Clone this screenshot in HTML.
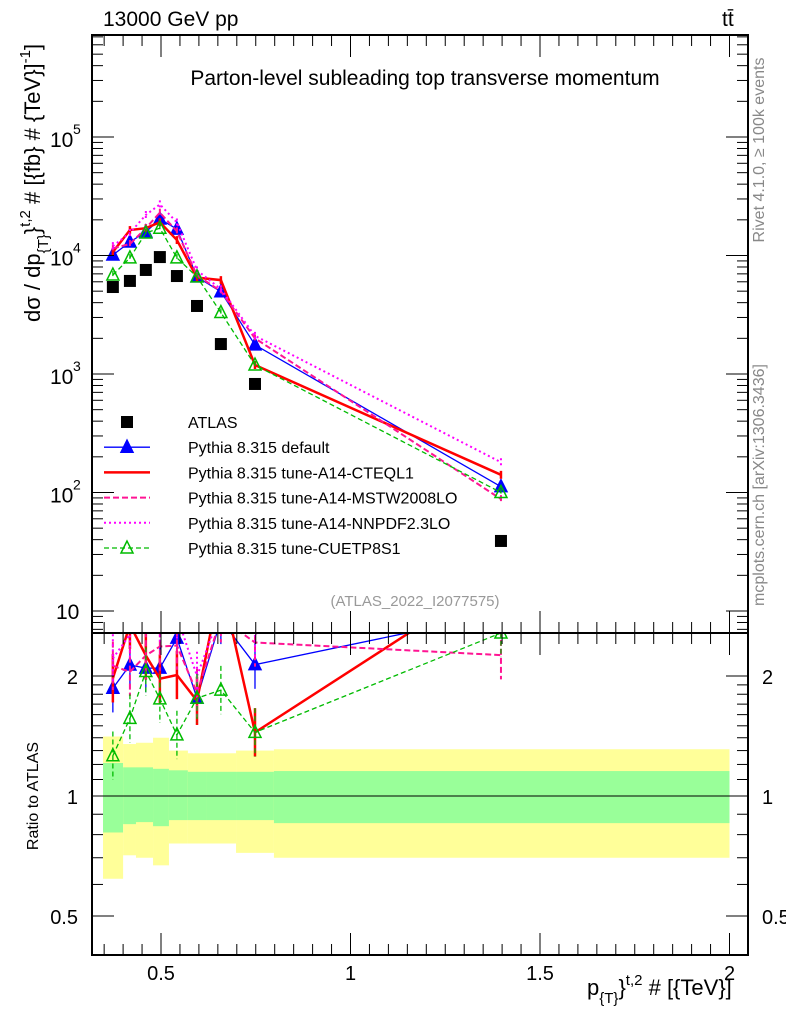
<!DOCTYPE html>
<html><head><meta charset="utf-8">
<style>
body{margin:0;background:#fff;font-family:"Liberation Sans",sans-serif;}
svg text{font-family:"Liberation Sans",sans-serif;}
</style></head>
<body>
<svg id="c" width="786" height="1024" xmlns="http://www.w3.org/2000/svg"></svg>
<script>
const xCenters=[0.373,0.418,0.46,0.497,0.542,0.595,0.658,0.748,1.397];
const binEdges=[0.347,0.40,0.434,0.479,0.521,0.571,0.62,0.698,0.798,2.0];
const atlas=[5420,6100,7550,9700,6710,3750,1790,824,39];
const pyDefault=[10100,13000,15800,20300,16700,6600,4950,1760,112];
const pyCTEQ=[10700,16400,17000,19100,13500,6500,6200,1190,141];
const pyMSTW=[11500,12500,17000,23000,16000,6800,5000,2000,88];
const pyNNPDF=[12000,15500,22000,27000,19000,7500,5200,2100,180];
const pyCUETP=[6840,9550,15500,17000,9550,6600,3300,1190,100];
const greenUp=[1.21,1.18,1.18,1.17,1.16,1.15,1.15,1.15,1.155];
const greenDn=[0.81,0.85,0.86,0.84,0.87,0.87,0.87,0.87,0.855];
const yellowUp=[1.41,1.35,1.36,1.40,1.30,1.28,1.28,1.30,1.31];
const yellowDn=[0.62,0.71,0.70,0.67,0.76,0.76,0.76,0.72,0.70];
const xTicks=[0.5,1,1.5,2];
const xTickLabels=["0.5","1","1.5","2"];

const S=document.getElementById('c');const NS='http://www.w3.org/2000/svg';
const L=92,R=748,T=35,MB=633,RB=955;
const X=v=>161+(v-0.5)*379;
const Y=v=>611-(Math.log10(v)-1)*118.5;
const YR=v=>796-Math.log2(v)*120;
function el(t,a,p){const e=document.createElementNS(NS,t);for(const k in a)e.setAttribute(k,a[k]);(p||S).appendChild(e);return e;}
function txt(s,x,y,a,p){const e=el('text',Object.assign({x:x,y:y,'font-size':20},a||{}),p);e.textContent=s;return e;}
function rich(parts,a){const e=el('text',a);parts.forEach(([s,dy,fs])=>{const t=el('tspan',{dy:dy,'font-size':fs},e);t.textContent=s;});return e;}

const defs=el('defs',{});
const c1=el('clipPath',{id:'cm'},defs);el('rect',{x:L,y:T,width:R-L,height:MB-T},c1);
const c2=el('clipPath',{id:'cr'},defs);el('rect',{x:L,y:MB,width:R-L,height:RB-MB},c2);
const gM=el('g',{'clip-path':'url(#cm)'});

const gR=el('g',{'clip-path':'url(#cr)'});


for(let i=0;i<xCenters.length;i++){
 const x0=X(binEdges[i]),x1=X(binEdges[i+1]);
 const y=el('rect',{x:x0,y:YR(yellowUp[i]),width:x1-x0,height:YR(yellowDn[i])-YR(yellowUp[i]),fill:'#ffff99'},gR);
 
 const g=el('rect',{x:x0,y:YR(greenUp[i]),width:x1-x0,height:YR(greenDn[i])-YR(greenUp[i]),fill:'#99ff99'},gR);
 
}
el('line',{x1:L,x2:R,y1:YR(1),y2:YR(1),stroke:'#000','stroke-width':1},gR);

const series=[
 {n:'pythia-default',d:pyDefault,c:'#0000ff',w:1.3,da:'',m:'tri'},
 {n:'pythia-a14-cteql1',d:pyCTEQ,c:'#ff0000',w:2.5,da:'',m:''},
 {n:'pythia-a14-mstw2008lo',d:pyMSTW,c:'#ff1493',w:2,da:'6,3',m:''},
 {n:'pythia-a14-nnpdf23lo',d:pyNNPDF,c:'#ff00ff',w:2,da:'2,3',m:''},
 {n:'pythia-cuetp8s1',d:pyCUETP,c:'#00bb00',w:1.3,da:'5,3',m:'otri'}];
function tri(g,x,y,c,open,name){const p=el('polygon',{points:`${x},${y-7} ${x-6},${y+5} ${x+6},${y+5}`,fill:open?'none':c,stroke:c,'stroke-width':1.5},g);}
series.forEach(s=>{
 const pm=xCenters.map((x,i)=>X(x)+','+Y(s.d[i])).join(' ');
 const l=el('polyline',{points:pm,fill:'none',stroke:s.c,'stroke-width':s.w,'stroke-dasharray':s.da},gM);
 
 const pr=xCenters.map((x,i)=>X(x)+','+YR(s.d[i]/atlas[i])).join(' ');
 const lr=el('polyline',{points:pr,fill:'none',stroke:s.c,'stroke-width':s.w,'stroke-dasharray':s.da},gR);
 
 xCenters.forEach((x,i)=>{
  const px=X(x),v=s.d[i],r=v/atlas[i];
  const e=el('line',{x1:px,x2:px,y1:Y(v*1.08),y2:Y(v/1.08),stroke:s.c,'stroke-width':s.w,'stroke-dasharray':s.da},gM);
  
  const er=el('line',{x1:px,x2:px,y1:YR(r*1.15),y2:YR(r/1.15),stroke:s.c,'stroke-width':s.w,'stroke-dasharray':s.da},gR);
  
  if(s.m){tri(gM,px,Y(v),s.c,s.m=='otri',s.n+'-point');tri(gR,px,YR(r),s.c,s.m=='otri',s.n+'-ratio-point');}
 });
});
xCenters.forEach((x,i)=>{
 const r=el('rect',{x:X(x)-6,y:Y(atlas[i])-6,width:12,height:12,fill:'#000'},gM);
 
});

el('rect',{x:L,y:T,width:R-L,height:MB-T,fill:'none',stroke:'#000','stroke-width':2});
el('rect',{x:L,y:MB,width:R-L,height:RB-MB,fill:'none',stroke:'#000','stroke-width':2});
for(let d=0;d<6;d++)for(let k=1;k<10;k++){const v=Math.pow(10,d)*k;const y=Y(v);if(y<T||y>MB)continue;const len=k==1?22:11;
 el('line',{x1:L,x2:L+len,y1:y,y2:y,stroke:'#000'});el('line',{x1:R,x2:R-len,y1:y,y2:y,stroke:'#000'});}
[1,2,3,4,5].forEach(p=>{const y=Y(Math.pow(10,p));
 if(p==1){const t=txt('10',56,y+8,{'font-size':21});}
 else{const t=txt('10',50,y+10,{'font-size':21});txt(String(p),73,y-3,{'font-size':14});}});
[0.3,0.4,0.5,0.6,0.7,0.8,0.9,1,2].forEach(v=>{const y=YR(v);if(y>RB)return;const len=(v==0.5||v==1||v==2)?22:11;el('line',{x1:L,x2:L+len,y1:y,y2:y,stroke:'#000'});el('line',{x1:R,x2:R-len,y1:y,y2:y,stroke:'#000'});});
for(let v=1.1;v<2;v+=0.1){const y=YR(v);el('line',{x1:L,x2:L+11,y1:y,y2:y,stroke:'#000'});el('line',{x1:R,x2:R-11,y1:y,y2:y,stroke:'#000'});}
[['2',2],['1',1],['0.5',0.5]].forEach(([s,v])=>{const a=txt(s,78,YR(v)+8,{'text-anchor':'end'});
 const b=txt(s,762,YR(v)+8);});
for(let v=0.35;v<2.05;v+=0.05){const x=X(v);const major=Math.abs(v*2-Math.round(v*2))<1e-6;const len=major?22:11;
 el('line',{x1:x,x2:x,y1:RB,y2:RB-len,stroke:'#000'});el('line',{x1:x,x2:x,y1:T,y2:T+len,stroke:'#000'});el('line',{x1:x,x2:x,y1:MB,y2:MB-len,stroke:'#000'});el('line',{x1:x,x2:x,y1:MB,y2:MB+len,stroke:'#000'});}
xTicks.forEach((v,i)=>{const t=txt(xTickLabels[i],X(v),980,{'text-anchor':'middle'});});

let t;
t=txt('13000 GeV pp',103,26,{'font-size':21});
t=txt('tt̄',722,26,{'font-size':21});
t=txt('Parton-level subleading top transverse momentum',425,85,{'text-anchor':'middle','font-size':21});
t=txt('(ATLAS_2022_I2077575)',415,606,{'text-anchor':'middle','font-size':15,fill:'#999'});
t=txt('Rivet 4.1.0, ≥ 100k events',0,0,{'text-anchor':'middle','font-size':16,fill:'#888',transform:'translate(764,150) rotate(-90)'});
t=txt('mcplots.cern.ch [arXiv:1306.3436]',0,0,{'text-anchor':'middle','font-size':16,fill:'#888',transform:'translate(764,485) rotate(-90)'});
t=rich([['dσ / dp',0,22],['{T}',8,15],['}',-8,22],['t,2',-10,15],[' # [{fb} # {TeV}]',10,22],['-1',-10,15],[']',10,22]],{x:0,y:0,transform:'translate(40,322) rotate(-90)'});

t=txt('Ratio to ATLAS',0,0,{'text-anchor':'middle','font-size':16,transform:'translate(38,796) rotate(-90)'});
t=rich([['p',0,22],['{T}',8,15],['}',-8,22],['t,2',-10,15],[' # [{TeV}]',10,22]],{x:587,y:995});


const leg=el('g',{});
const names=['ATLAS','Pythia 8.315 default','Pythia 8.315 tune-A14-CTEQL1','Pythia 8.315 tune-A14-MSTW2008LO','Pythia 8.315 tune-A14-NNPDF2.3LO','Pythia 8.315 tune-CUETP8S1'];
names.forEach((n,i)=>{const y=422+i*25.2;
 const g=el('g',{},leg);
 if(i==0)el('rect',{x:121,y:y-6,width:12,height:12,fill:'#000'},g);
 else{const s=series[i-1];el('line',{x1:104,x2:150,y1:y,y2:y,stroke:s.c,'stroke-width':s.w,'stroke-dasharray':s.da},g);if(s.m)tri(g,127,y,s.c,s.m=='otri','legend-marker');}
 txt(n,188,y+6,{'font-size':16},g);});
</script>
</body></html>
